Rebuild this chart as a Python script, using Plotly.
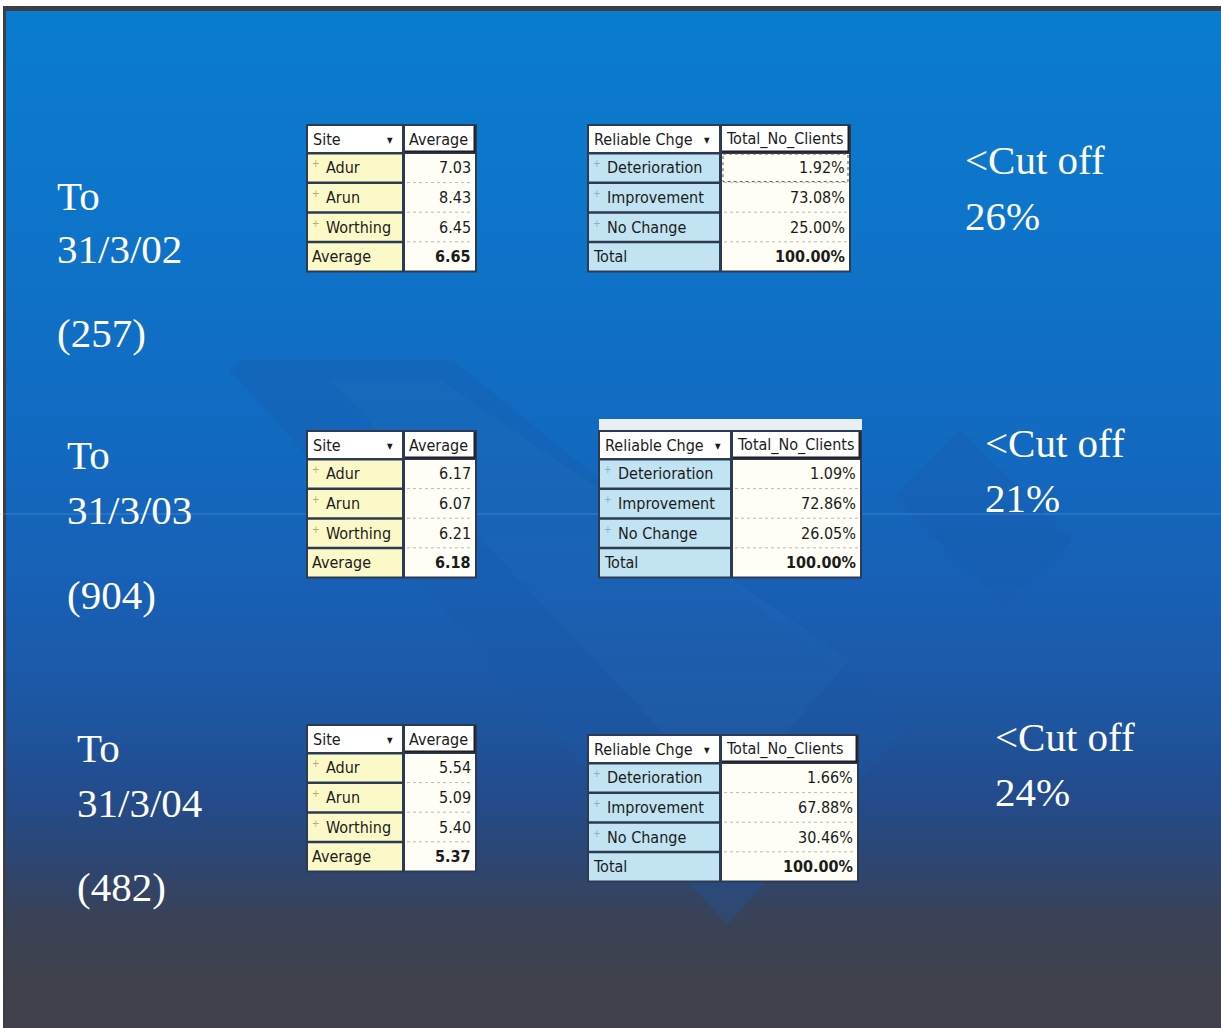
import plotly.graph_objects as go

# ---- values ---------------------------------------------------------------
periods = ["31/3/02", "31/3/03", "31/3/04"]
client_counts = [257, 904, 482]
cutoff_pct = [26, 21, 24]

site_names = ["Adur", "Arun", "Worthing"]
site_avg = [
    [7.03, 8.43, 6.45],
    [6.17, 6.07, 6.21],
    [5.54, 5.09, 5.40],
]
overall_avg = [6.65, 6.18, 5.37]

change_names = ["Deterioration", "Improvement", "No Change"]
change_pct = [
    [1.92, 73.08, 25.00],
    [1.09, 72.86, 26.05],
    [1.66, 67.88, 30.46],
]

# ---- layout of the slide (pixels) ----------------------------------------
W, H = 1221, 1028
HEAD_H = 28
ROW_H = 29.6

blocks = [
    dict(lx=55, to_y=196, date_y=249, n_y=333, cx=963, cut_y=160, pct_y=216,
         site=(307, 403, 476, 125), rel=(588, 720, 850, 125), strip=False, sel=True),
    dict(lx=65, to_y=455, date_y=510, n_y=595, cx=983, cut_y=443, pct_y=498,
         site=(307, 403, 476, 431), rel=(599, 731, 861, 431), strip=True, sel=False),
    dict(lx=75, to_y=748, date_y=803, n_y=887, cx=993, cut_y=737, pct_y=792,
         site=(307, 403, 476, 725), rel=(588, 720, 858, 735), strip=False, sel=False),
]

# background gradient stops (y position, colour)
bg_y = [0, 250, 450, 600, 720, 800, 860, 910, 970, 1028]
bg_col = ["#0a7dd0", "#0e73c8", "#1269c0", "#185fb4", "#1e55a0",
          "#244b8a", "#2d4673", "#38425a", "#3e404c", "#40414a"]

SERIF = "Liberation Serif"
SANS = "DejaVu Sans Condensed, DejaVu Sans, sans-serif"
TS = 16
TXT = "#1b1b1b"
YELLOW = "#fcf9c9"
BLUE = "#c2e3f2"
CREAM = "#fefef6"
EDGE = "#2c3a52"

fig = go.Figure()

# slide background as a vertical gradient
scale = [[(y - bg_y[0]) / (bg_y[-1] - bg_y[0]), c] for y, c in zip(bg_y, bg_col)]
fig.add_trace(go.Heatmap(
    x=[-20, W + 20], y=bg_y, z=[[y, y] for y in bg_y],
    colorscale=scale, zmin=bg_y[0], zmax=bg_y[-1], zsmooth="best",
    showscale=False, hoverinfo="skip",
))

shapes = []
annos = []


def rect(x0, y0, x1, y1, fill, line_color=None, width=0, dash=None, opacity=1):
    line = dict(width=width)
    if line_color:
        line["color"] = line_color
    if dash:
        line["dash"] = dash
    shapes.append(dict(type="rect", xref="x", yref="y", x0=x0, y0=y0, x1=x1, y1=y1,
                       fillcolor=fill, line=line, opacity=opacity, layer="above"))


def seg(x0, y0, x1, y1, color, width=1, dash=None):
    line = dict(color=color, width=width)
    if dash:
        line["dash"] = dash
    shapes.append(dict(type="line", xref="x", yref="y", x0=x0, y0=y0, x1=x1, y1=y1,
                       line=line, layer="above"))


def text(x, y, s, size, color=TXT, family=SANS, anchor="left", bold=False):
    if bold:
        s = "<b>" + s + "</b>"
    annos.append(dict(xref="x", yref="y", x=x, y=y, text=s, showarrow=False,
                      xanchor=anchor, yanchor="middle",
                      font=dict(family=family, size=size, color=color)))


def path(points, fill, opacity):
    d = "M " + " L ".join(f"{px},{py}" for px, py in points) + " Z"
    shapes.append(dict(type="path", xref="x", yref="y", path=d, fillcolor=fill,
                       line=dict(width=0), opacity=opacity, layer="above"))


# decorative chevron / diamond shapes of the slide design
path([(230, 370), (239, 360), (452, 360), (907, 727), (727, 925)], "#1a5aa8", 0.30)
path([(330, 380), (440, 380), (850, 660), (727, 800)], "#3a86d0", 0.08)
path([(893, 497), (960, 430), (1072, 540), (1005, 607)], "#1a58a8", 0.28)

# slide frame: white margin and dark rule
rect(0, 0, W, 6, "white")
rect(0, 0, 3, H, "white")
rect(3, 6, W, 11, "#3d3f45")
rect(3, 6, 6, H, "#3d3f45")
# faint horizontal highlight across the slide
seg(0, 514, W, 514, "rgba(140,195,240,0.30)", 1)


def pivot_table(box, head_left, head_right, names, values, total, total_label,
                fill, icon, strip, sel):
    x0, split, x1, top = box
    bottom = top + HEAD_H + 4 * ROW_H
    if strip:
        rect(x0, top - 12, x1 + 1, top, "#e9eef3")
    rect(x0 - 1, top - 1, x1 + 1, bottom + 1, EDGE)
    # header cells
    rect(x0 + 1, top + 1, split - 1, top + HEAD_H - 1, "white")
    rect(split + 2, top + 1, x1 - 1, top + HEAD_H - 1, "white")
    seg(split + 2, top + HEAD_H - 1.5, x1 - 1, top + HEAD_H - 1.5, "#202020", 2)
    seg(x1 - 1.5, top + 1, x1 - 1.5, top + HEAD_H - 1, "#202020", 2)
    text(x0 + 4, top + HEAD_H / 2, head_left, TS)
    text(split - 13, top + HEAD_H / 2 + 1, "▼", 8, anchor="center")
    text(split + 4, top + HEAD_H / 2, head_right, TS)
    # value column
    rect(split + 2, top + HEAD_H + 1, x1 - 1, bottom - 1, CREAM)
    for i in range(1, 4):
        yy = top + HEAD_H + i * ROW_H
        seg(split + 4, yy, x1 - 3, yy, "#b9b9b9", 1, "dot")
    labels = names + [total_label]
    vals = values + [total]
    for i, (lab, v) in enumerate(zip(labels, vals)):
        y0 = top + HEAD_H + i * ROW_H
        rect(x0 + 1, y0 + 1.5, split - 1, y0 + ROW_H - 1, fill)
        cy = y0 + ROW_H / 2
        last = i == len(labels) - 1
        if last:
            text(x0 + 3, cy, lab, TS)
        else:
            text(x0 + 9, cy - 4, "+", 10, color=icon, anchor="center")
            text(x0 + 17, cy, lab, TS)
        text(x1 - 3, cy, v, TS, anchor="right", bold=last)
    if sel:
        y0 = top + HEAD_H
        rect(split + 3, y0 + 1, x1 - 2, y0 + ROW_H - 1, "rgba(0,0,0,0)",
             "#555555", 1, "dot")


for k, b in enumerate(blocks):
    # period captions
    text(b["lx"], b["to_y"], "To", 41, color="white", family=SERIF)
    text(b["lx"], b["date_y"], periods[k], 41, color="white", family=SERIF)
    text(b["lx"], b["n_y"], f"({client_counts[k]})", 41, color="white", family=SERIF)
    text(b["cx"], b["cut_y"], "&lt;Cut off", 41, color="white", family=SERIF)
    text(b["cx"], b["pct_y"], f"{cutoff_pct[k]}%", 41, color="white", family=SERIF)

    pivot_table(b["site"], "Site", "Average", site_names,
                [f"{v:.2f}" for v in site_avg[k]], f"{overall_avg[k]:.2f}", "Average",
                YELLOW, "#b7ad6a", False, False)
    pivot_table(b["rel"], "Reliable Chge", "Total_No_Clients", change_names,
                [f"{v:.2f}%" for v in change_pct[k]], f"{sum(change_pct[k]):.2f}%", "Total",
                BLUE, "#7fb2cc", b["strip"], b["sel"])

fig.update_layout(
    width=W, height=H,
    margin=dict(l=0, r=0, t=0, b=0),
    paper_bgcolor="white", plot_bgcolor="rgba(0,0,0,0)",
    showlegend=False,
    shapes=shapes, annotations=annos,
    xaxis=dict(range=[0, W], visible=False, fixedrange=True),
    yaxis=dict(range=[H, 0], visible=False, fixedrange=True),
)

fig.write_html("out.html", config={"displayModeBar": False})
